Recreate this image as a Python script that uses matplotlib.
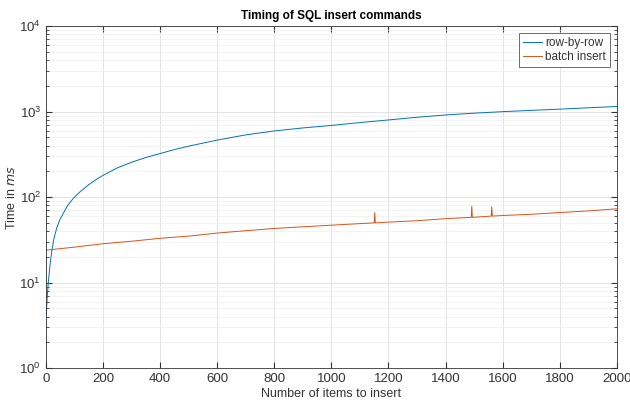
import matplotlib
matplotlib.use("Agg")
import matplotlib.pyplot as plt
import numpy as np

plt.rcParams['font.family'] = ['Liberation Sans', 'DejaVu Sans']

# values (items -> time in ms)
row_items = [1, 4, 8, 14, 20, 28, 38, 48, 60, 76, 96, 120, 150, 175, 200, 250,
             300, 350, 400, 450, 500, 600, 700, 800, 900, 1000, 1100, 1200,
             1300, 1400, 1500, 1600, 1700, 1800, 1900, 2000]
row_ms = [4.3, 6.5, 10, 16, 23, 33, 44, 54, 64, 80, 97, 116, 140, 160, 180, 220,
          256, 291, 324, 360, 395, 465, 535, 595, 645, 690, 745, 800,
          860, 915, 960, 1000, 1035, 1070, 1110, 1150]

batch_items = [1, 100, 200, 300, 400, 500, 600, 700, 800, 900, 1000, 1100,
               1150, 1152, 1154, 1200, 1300, 1400, 1490, 1492, 1494, 1560,
               1562, 1564, 1600, 1700, 1800, 1900, 2000]
batch_ms = [24, 26, 28.5, 30.5, 33, 35, 38, 40.5, 43, 45, 47, 49,
            50, 66, 50, 51, 53, 56, 58, 78, 58, 60,
            77, 60, 61, 63, 66, 69, 73]

x_ticks = list(range(0, 2001, 200))

fig = plt.figure(figsize=(6.3, 4.09), dpi=100)
ax = fig.add_axes([0.073, 0.100, 0.906, 0.836])

ax.plot(row_items, row_ms, color='#0072BD', lw=0.7, label='row-by-row')
ax.plot(batch_items, batch_ms, color='#D95319', lw=0.7, label='batch insert')

ax.set_yscale('log')
ax.set_xlim(0, 2000)
ax.set_ylim(1, 1e4)
ax.set_xticks(x_ticks)

# matlab-ish look
ax.grid(True, which='major', color='#dedede', lw=0.6)
ax.grid(True, which='minor', axis='y', color='#efefef', lw=0.5)
ax.set_axisbelow(True)
ax.tick_params(which='both', direction='in', top=True, right=True,
               labelsize=9.5, colors='#333333')
ax.tick_params(which='major', length=4)
ax.tick_params(which='minor', length=2)
for s in ax.spines.values():
    s.set_color('#333333')
    s.set_linewidth(0.6)

ax.set_title('Timing of SQL insert commands', fontsize=8.5, fontweight='bold', pad=5)
ax.set_xlabel('Number of items to insert', fontsize=9, labelpad=2, color='#333333')
ax.set_ylabel('Time in $\\it{ms}$', fontsize=9, labelpad=1, color='#333333')

leg = ax.legend(loc='upper right', fontsize=8.5, handlelength=1.6, handletextpad=0.3,
                borderaxespad=0.6, fancybox=False, framealpha=1, borderpad=0.3,
                labelspacing=0.2)
leg.get_frame().set_edgecolor('#333333')
leg.get_frame().set_linewidth(0.5)
for t in leg.get_texts():
    t.set_color('#333333')

fig.savefig('out.png', dpi=100)
